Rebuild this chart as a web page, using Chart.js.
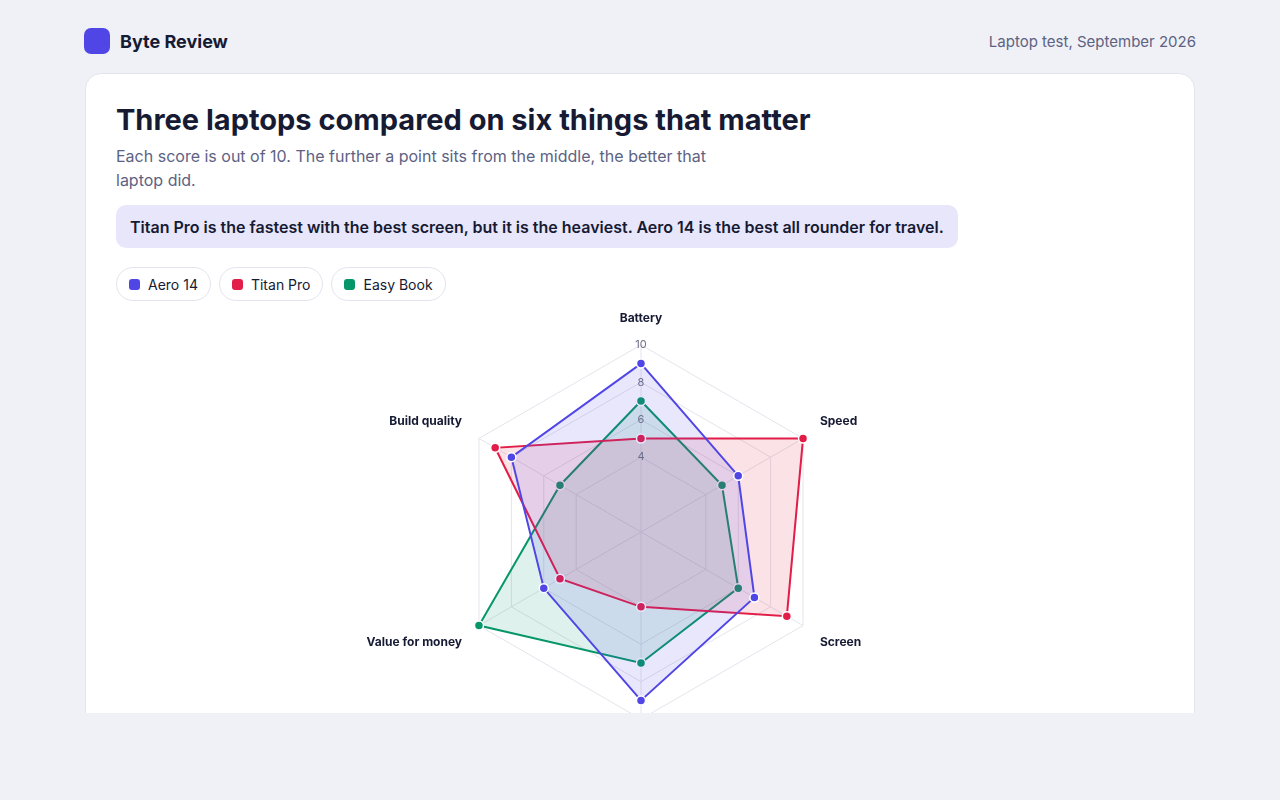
<!DOCTYPE html>
<html>
<head>
<meta charset="utf-8">
<script src="https://cdn.jsdelivr.net/npm/chart.js@4"></script>
<style>
  body { margin: 0; background: #f0f1f6; font-family: "Inter", sans-serif; color: #161a33; }
  .page { width: 1280px; height: 713px; overflow: hidden; position: relative; }
  .top { position: absolute; left: 84px; top: 28px; right: 84px; height: 26px; display: flex; align-items: center; justify-content: space-between; }
  .brand { display: flex; align-items: center; font-weight: 700; font-size: 18px; }
  .logo { width: 26px; height: 26px; border-radius: 7px; background: #5046e5; margin-right: 10px; }
  .date { color: #5d6283; font-size: 15px; }
  .card { position: absolute; left: 85px; top: 73px; width: 1110px; height: 700px; background: #fff; border: 1px solid #e3e4ee; border-radius: 16px; box-sizing: border-box; }
  h1 { position: absolute; left: 30px; top: 28px; margin: 0; font-size: 29px; font-weight: 700; }
  .sub { position: absolute; left: 30px; top: 70px; width: 600px; font-size: 16px; line-height: 24px; color: #5d6283; }
  .note { position: absolute; left: 30px; top: 131px; height: 43px; padding: 0 14px; display: flex; align-items: center; background: #e8e6fb; border-radius: 10px; font-size: 16px; font-weight: 600; }
  .legend { position: absolute; left: 30px; top: 193px; display: flex; gap: 8px; }
  .chip { height: 32px; padding: 0 12px; border: 1px solid #e3e4ee; border-radius: 17px; display: flex; align-items: center; font-size: 14px; }
  .sw { width: 11px; height: 11px; border-radius: 3px; margin-right: 8px; }
  .wrap { position: absolute; left: 30px; top: 237px; width: 1050px; height: 442px; }
</style>
</head>
<body>
<div class="page">
  <div class="top">
    <div class="brand"><div class="logo"></div>Byte Review</div>
    <div class="date">Laptop test, September 2026</div>
  </div>
  <div class="card">
    <h1>Three laptops compared on six things that matter</h1>
    <div class="sub">Each score is out of 10. The further a point sits from the middle, the better that laptop did.</div>
    <div class="note">Titan Pro is the fastest with the best screen, but it is the heaviest. Aero 14 is the best all rounder for travel.</div>
    <div class="legend" id="legend"></div>
    <div class="wrap"><canvas id="radar"></canvas></div>
  </div>
</div>
<script>
const categories = ["Battery", "Speed", "Screen", "Portability", "Value for money", "Build quality"];
const seriesNames = ["Aero 14", "Titan Pro", "Easy Book"];
const aeroScores = [9, 6, 7, 9, 6, 8];
const titanScores = [5, 10, 9, 4, 5, 9];
const easyScores = [7, 5, 6, 7, 10, 5];
const tickValues = [2, 4, 6, 8, 10];

const colors = ["#5046e5", "#e11d48", "#079669"];
const fills = ["rgba(80,70,229,0.13)", "rgba(225,29,72,0.13)", "rgba(7,150,105,0.13)"];
const allScores = [aeroScores, titanScores, easyScores];

// legend chips
const legend = document.getElementById("legend");
seriesNames.forEach((name, i) => {
    const chip = document.createElement("div");
    chip.className = "chip";
    chip.innerHTML = '<span class="sw" style="background:' + colors[i] + '"></span>' + name;
    legend.appendChild(chip);
});

new Chart(document.getElementById("radar").getContext("2d"), {
    type: "radar",
    data: {
        labels: categories,
        datasets: seriesNames.map((name, i) => ({
            label: name,
            data: allScores[i],
            borderColor: colors[i],
            backgroundColor: fills[i],
            borderWidth: 2,
            fill: true,
            pointRadius: 4.5,
            pointBackgroundColor: colors[i],
            pointBorderColor: "#fff",
            pointBorderWidth: 1.5
        }))
    },
    options: {
        responsive: true,
        maintainAspectRatio: false,
        animation: false,
        plugins: { legend: { display: false }, tooltip: { enabled: false } },
        scales: {
            r: {
                min: 0,
                max: 10,
                afterBuildTicks: axis => { axis.ticks = tickValues.map(v => ({ value: v })); },
                ticks: { color: "#6b6f8a", font: { size: 11, family: "Inter" }, showLabelBackdrop: false, z: 1 },
                grid: { color: "#e4e4ec" },
                angleLines: { color: "#e4e4ec" },
                pointLabels: { color: "#161a33", font: { size: 12, weight: "bold", family: "Inter" }, padding: 12 }
            }
        }
    }
});
</script>
</body>
</html>
